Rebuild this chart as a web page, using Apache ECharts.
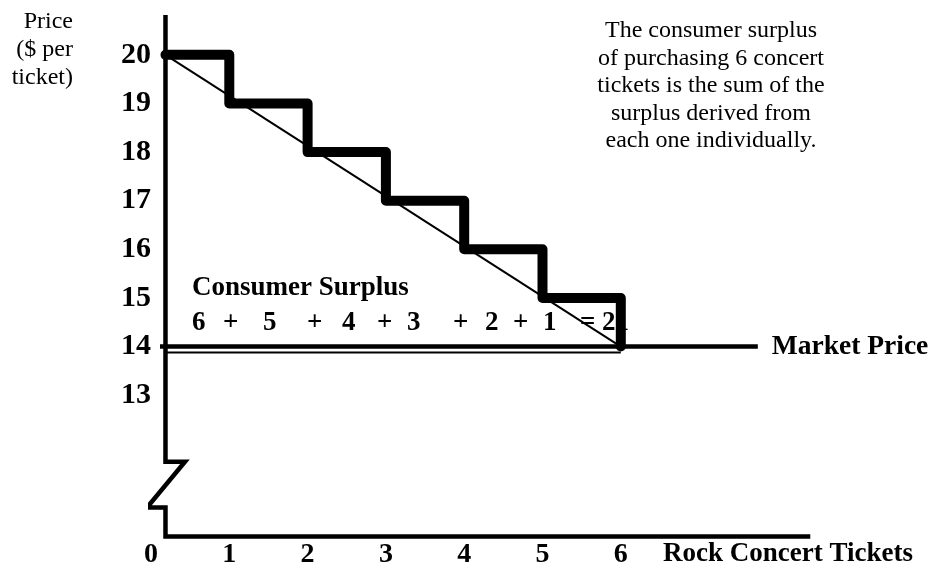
<!DOCTYPE html>
<html>
<head>
<meta charset="utf-8">
<script src="https://cdn.jsdelivr.net/npm/echarts@6/dist/echarts.min.js"></script>
<style>
  html, body { margin: 0; padding: 0; background: #fff; }
  #chart { width: 934px; height: 569px; }
</style>
</head>
<body>
<div id="chart"></div>
<script>
// Tickets bought and the price the buyer would pay for each one
const ticketTicks = [0, 1, 2, 3, 4, 5, 6];
const willingnessToPay = [20, 19, 18, 17, 16, 15];
const marketPrice = 14;
const priceTicks = [13, 14, 15, 16, 17, 18, 19, 20];

// Surplus of each ticket = what it is worth minus what it costs
const surplusTerms = willingnessToPay.map(p => p - marketPrice);
const surplusTotal = surplusTerms.reduce((a, b) => a + b, 0);

// Layout constants (in axis units)
const AXIS_X = 0.185;       // where the vertical axis is drawn
const AXIS_TOP = 20.82;
const BREAK_TOP = 11.63;
const BREAK_BOTTOM = 10.69;
const BASE_Y = 10.09;       // horizontal axis
const BREAK_RIGHT = 0.434;
const BREAK_LEFT = -0.051;
const BASE_END = 8.42;
const MARKET_END = 7.75;

const SERIF = '"Liberation Serif", "Times New Roman", serif';

// Staircase: each ticket's value, stepping down to the market price
const steps = [[AXIS_X, willingnessToPay[0]]];
willingnessToPay.forEach((p, i) => {
  const next = i + 1 < willingnessToPay.length ? willingnessToPay[i + 1] : marketPrice;
  steps.push([i + 1, p]);
  steps.push([i + 1, next]);
});

const lastTicket = willingnessToPay.length;
const demandLine = [[AXIS_X, willingnessToPay[0]], [lastTicket, marketPrice]];

const axisPath = [
  [AXIS_X, AXIS_TOP], [AXIS_X, BREAK_TOP], [BREAK_RIGHT, BREAK_TOP],
  [BREAK_LEFT, BREAK_BOTTOM], [AXIS_X, BREAK_BOTTOM], [AXIS_X, BASE_Y],
  [BASE_END, BASE_Y]
];

const chart = echarts.init(document.getElementById('chart'), null, { renderer: 'canvas' });

// Equation tokens under the "Consumer Surplus" heading
const tokens = [];
surplusTerms.forEach((t, i) => {
  tokens.push(String(t));
  if (i < surplusTerms.length - 1) tokens.push('+');
});
tokens.push('=');
tokens.push(String(surplusTotal));
const tokenX = [192, 223, 263, 307, 342, 377, 407, 453, 485, 513, 543, 580, 602];

const graphics = [
  {
    type: 'text', x: 73, y: 8, z: 0,
    style: { text: 'Price\n($ per\nticket)', font: '24px ' + SERIF, fill: '#000',
             align: 'right', verticalAlign: 'top', lineHeight: 28 }
  },
  {
    type: 'text', x: 711, y: 17, z: 0,
    style: { text: 'The consumer surplus\nof purchasing 6 concert\ntickets is the sum of the\nsurplus derived from\neach one individually.',
             font: '24px ' + SERIF, fill: '#000', align: 'center', verticalAlign: 'top', lineHeight: 27.5 }
  },
  {
    type: 'text', x: 192, y: 288, z: 0,
    style: { text: 'Consumer Surplus', font: 'bold 27px ' + SERIF, fill: '#000', align: 'left', verticalAlign: 'middle' }
  },
  {
    type: 'text', x: 663, y: 554, z: 0,
    style: { text: 'Rock Concert Tickets', font: 'bold 27px ' + SERIF, fill: '#000', align: 'left', verticalAlign: 'middle' }
  }
];
tokens.forEach((tk, i) => {
  graphics.push({
    type: 'text', x: tokenX[i], y: 323, z: 0,
    style: { text: tk, font: 'bold 27px ' + SERIF, fill: '#000', align: 'left', verticalAlign: 'middle' }
  });
});

const option = {
  animation: false,
  backgroundColor: '#fff',
  grid: { left: 151, right: 78.3, top: 6.25, bottom: 26.5, containLabel: false },
  xAxis: {
    type: 'value', min: 0, max: 9, interval: 1,
    axisLine: { show: false }, axisTick: { show: false }, splitLine: { show: false },
    axisLabel: {
      margin: 0,
      formatter: v => ticketTicks.includes(v) ? String(v) : '',
      fontFamily: SERIF, fontWeight: 'bold', fontSize: 28, color: '#000'
    }
  },
  yAxis: {
    type: 'value', min: 10, max: 21, interval: 1,
    axisLine: { show: false }, axisTick: { show: false }, splitLine: { show: false },
    axisLabel: {
      margin: 0,
      formatter: v => priceTicks.includes(v) ? String(v) : '',
      fontFamily: SERIF, fontWeight: 'bold', fontSize: 30, color: '#000'
    }
  },
  graphic: graphics,
  series: [
    {
      // axes with the break in the price axis
      type: 'line', data: axisPath, clip: false, symbol: 'none', z: 3,
      lineStyle: { color: '#000', width: 4.5, join: 'miter', cap: 'butt' }
    },
    {
      // market price: thick rule with a thin rule just under it
      type: 'line', data: [[AXIS_X, marketPrice], [lastTicket, marketPrice]],
      clip: false, symbol: 'none', z: 3,
      lineStyle: { color: '#000', width: 2, shadowColor: '#000', shadowBlur: 0, shadowOffsetY: 6, shadowOffsetX: 0 }
    },
    {
      type: 'line', data: [[AXIS_X - 0.07, marketPrice], [MARKET_END, marketPrice]],
      clip: false, symbol: 'none', z: 4,
      lineStyle: { color: '#000', width: 4.5 },
      endLabel: {
        show: true, formatter: 'Market Price', distance: 14,
        fontFamily: SERIF, fontWeight: 'bold', fontSize: 27.5, color: '#000'
      }
    },
    {
      // straight demand line
      type: 'line', data: demandLine, clip: false, symbol: 'none', z: 5,
      lineStyle: { color: '#000', width: 2 }
    },
    {
      // stepped demand: value of each individual ticket
      type: 'line', data: steps, clip: false, symbol: 'none', z: 6,
      lineStyle: { color: '#000', width: 10, join: 'round', cap: 'round' }
    }
  ]
};

chart.setOption(option);
</script>
</body>
</html>
